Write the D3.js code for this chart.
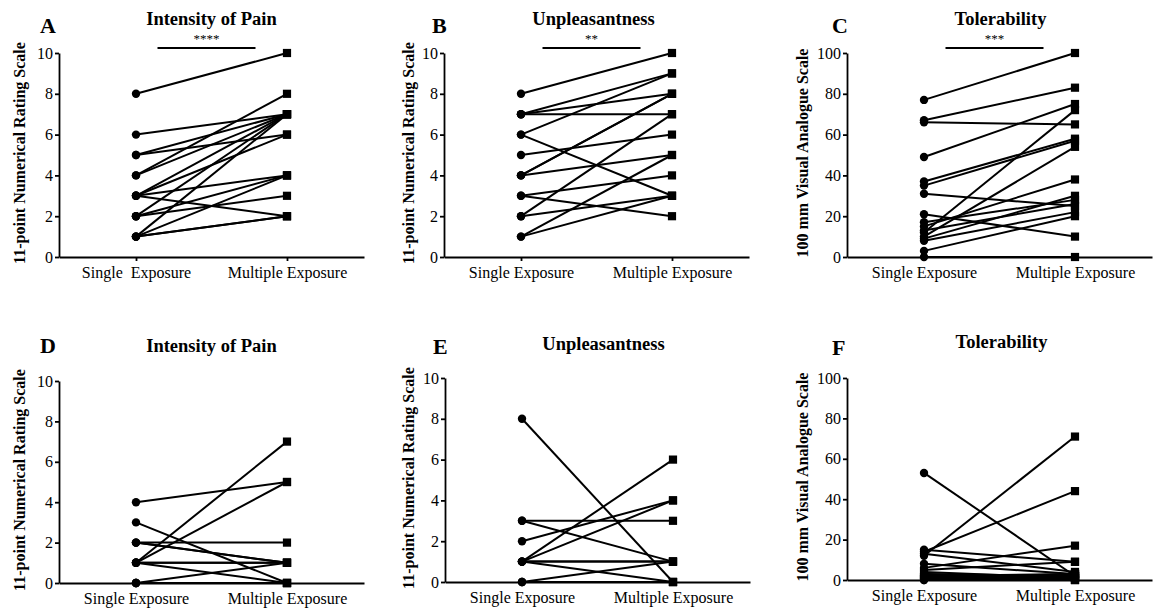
<!DOCTYPE html>
<html>
<head>
<meta charset="utf-8">
<script src="https://cdn.jsdelivr.net/npm/d3@7"></script>
</head>
<body style="margin:0; background:#fff">
<div id="chart"></div>
<script>
// Categories and tick labels
var categories = ['Single Exposure', 'Multiple Exposure']
var xTickLabelsA = ['Single  Exposure', 'Multiple Exposure']
var nrsTicks = [0, 2, 4, 6, 8, 10]
var vasTicks = [0, 20, 40, 60, 80, 100]

// A - intensity of pain (paired values)
var painA_single   = [8, 6, 5, 5, 4, 4, 3, 3, 3, 3, 2, 2, 2, 1, 1, 1, 1]
var painA_multiple = [10, 7, 7, 6, 8, 7, 7, 6, 4, 2, 7, 4, 3, 7, 4, 2, 2]

// B - unpleasantness
var unplB_single   = [8, 7, 7, 7, 6, 6, 5, 4, 4, 4, 3, 3, 2, 2, 1, 1]
var unplB_multiple = [10, 9, 8, 7, 9, 3, 6, 8, 8, 5, 4, 2, 7, 3, 5, 3]

// C - tolerability
var tolC_single   = [77, 67, 66, 49, 37, 35, 31, 21, 17, 15, 13, 12, 10, 9, 8, 3, 0]
var tolC_multiple = [100, 83, 65, 75, 58, 57, 25, 10, 28, 38, 26, 72, 54, 30, 22, 20, 0]

// D - intensity of pain
var painD_single   = [4, 3, 2, 2, 2, 1, 1, 1, 1, 1, 0, 0, 0, 0]
var painD_multiple = [5, 0, 2, 1, 1, 7, 5, 1, 1, 0, 1, 0, 0, 0]

// E - unpleasantness
var unplE_single   = [8, 3, 3, 2, 1, 1, 1, 1, 1, 0, 0, 0]
var unplE_multiple = [0, 3, 1, 4, 6, 4, 1, 1, 0, 1, 0, 0]

// F - tolerability
var tolF_single   = [53, 12, 14, 15, 13, 6, 5, 8, 3, 2, 1, 0, 2, 1, 3, 0, 2, 1, 4]
var tolF_multiple = [2, 71, 44, 9, 4, 17, 9, 3, 2, 1, 0, 2, 3, 1, 0, 0, 2, 3, 1]

var width = 1154
var height = 612
var axisLen = 305
var serif = 'Liberation Serif'

var svg = d3.select('#chart').append('svg')
  .attr('width', width)
  .attr('height', height)

var panels = [
  {letter: 'A', title: 'Intensity of Pain', stars: '****', single: painA_single, multiple: painA_multiple,
   ymax: 10, ticks: nrsTicks, xlabels: xTickLabelsA, ylabel: '11-point Numerical Rating Scale',
   ax: 59, top: 53, bottom: 257, letterX: 40, letterY: 33, titleY: 25, titleDx: 0, ylabX: 19},
  {letter: 'B', title: 'Unpleasantness', stars: '**', single: unplB_single, multiple: unplB_multiple,
   ymax: 10, ticks: nrsTicks, xlabels: categories, ylabel: '11-point Numerical Rating Scale',
   ax: 444, top: 53, bottom: 257, letterX: 432, letterY: 33, titleY: 25, titleDx: -3, ylabX: 408},
  {letter: 'C', title: 'Tolerability', stars: '***', single: tolC_single, multiple: tolC_multiple,
   ymax: 100, ticks: vasTicks, xlabels: categories, ylabel: '100 mm Visual Analogue Scale',
   ax: 847, top: 53, bottom: 257, letterX: 832, letterY: 33, titleY: 25, titleDx: 1, ylabX: 802},
  {letter: 'D', title: 'Intensity of Pain', single: painD_single, multiple: painD_multiple,
   ymax: 10, ticks: nrsTicks, xlabels: categories, ylabel: '11-point Numerical Rating Scale',
   ax: 59, top: 381, bottom: 583, letterX: 40, letterY: 353, titleY: 352, titleDx: 0, ylabX: 19},
  {letter: 'E', title: 'Unpleasantness', single: unplE_single, multiple: unplE_multiple,
   ymax: 10, ticks: nrsTicks, xlabels: categories, ylabel: '11-point Numerical Rating Scale',
   ax: 445, top: 378, bottom: 582, letterX: 433, letterY: 354, titleY: 350, titleDx: 6, ylabX: 408},
  {letter: 'F', title: 'Tolerability', single: tolF_single, multiple: tolF_multiple,
   ymax: 100, ticks: vasTicks, xlabels: categories, ylabel: '100 mm Visual Analogue Scale',
   ax: 847, top: 378, bottom: 580, letterX: 832, letterY: 355, titleY: 348, titleDx: 2, ylabX: 802}
]

panels.forEach(function(p){
  var g = svg.append('g')

  var x = d3.scalePoint().domain(categories).range([p.ax, p.ax + axisLen]).padding(0.51)
  var y = d3.scaleLinear().domain([0, p.ymax]).range([p.bottom, p.top])

  // y axis
  var yAxis = g.append('g')
    .attr('transform', 'translate(' + p.ax + ',0)')
    .call(d3.axisLeft(y).tickValues(p.ticks).tickSize(4).tickSizeOuter(0).tickPadding(2))
  yAxis.attr('font-family', serif)
  yAxis.selectAll('path, line').attr('stroke', '#000').attr('stroke-width', 1.8)
  yAxis.selectAll('text').attr('font-family', serif).attr('font-size', 16).attr('fill', '#000')

  // x axis
  var xAxis = g.append('g')
    .attr('transform', 'translate(0,' + p.bottom + ')')
    .call(d3.axisBottom(x).tickSize(4).tickSizeOuter(0).tickPadding(6)
      .tickFormat(function(d, i){ return p.xlabels[i] }))
  xAxis.attr('font-family', serif)
  xAxis.selectAll('path, line').attr('stroke', '#000').attr('stroke-width', 1.8)
  xAxis.selectAll('text').attr('font-family', serif).attr('font-size', 16).attr('fill', '#000')
    .style('white-space', 'pre')

  // paired lines
  var pairs = p.single.map(function(s, i){ return [s, p.multiple[i]] })
  g.selectAll('line.pair').data(pairs).enter().append('line')
    .attr('x1', x(categories[0]))
    .attr('x2', x(categories[1]))
    .attr('y1', function(d){ return y(d[0]) })
    .attr('y2', function(d){ return y(d[1]) })
    .attr('stroke', '#000')
    .attr('stroke-width', 2)

  // markers
  g.selectAll('circle.single').data(p.single).enter().append('circle')
    .attr('cx', x(categories[0]))
    .attr('cy', function(d){ return y(d) })
    .attr('r', 4.2)
    .attr('fill', '#000')

  var sq = 8.2
  g.selectAll('rect.multiple').data(p.multiple).enter().append('rect')
    .attr('x', x(categories[1]) - sq / 2)
    .attr('y', function(d){ return y(d) - sq / 2 })
    .attr('width', sq)
    .attr('height', sq)
    .attr('fill', '#000')

  var mid = (x(categories[0]) + x(categories[1])) / 2

  // titles
  g.append('text')
    .attr('x', mid + p.titleDx)
    .attr('y', p.titleY)
    .attr('text-anchor', 'middle')
    .attr('font-family', serif)
    .attr('font-size', 18.5)
    .attr('font-weight', 'bold')
    .text(p.title)

  g.append('text')
    .attr('x', p.letterX)
    .attr('y', p.letterY)
    .attr('font-family', serif)
    .attr('font-size', 22)
    .attr('font-weight', 'bold')
    .text(p.letter)

  // significance bar
  if (p.stars) {
    g.append('line')
      .attr('x1', mid - 54)
      .attr('x2', mid + 44)
      .attr('y1', 48)
      .attr('y2', 48)
      .attr('stroke', '#000')
      .attr('stroke-width', 1.8)
    g.append('text')
      .attr('x', mid - 5)
      .attr('y', 43)
      .attr('text-anchor', 'middle')
      .attr('font-family', serif)
      .attr('font-size', 13)
      .attr('fill', '#000')
      .text(p.stars)
  }

  // y axis label
  g.append('text')
    .attr('transform', 'translate(' + p.ylabX + ',' + ((p.top + p.bottom) / 2 - 2) + ') rotate(-90)')
    .attr('text-anchor', 'middle')
    .attr('dy', '0.35em')
    .attr('font-family', serif)
    .attr('font-size', 16)
    .attr('font-weight', 'bold')
    .text(p.ylabel)
})
</script>
</body>
</html>
